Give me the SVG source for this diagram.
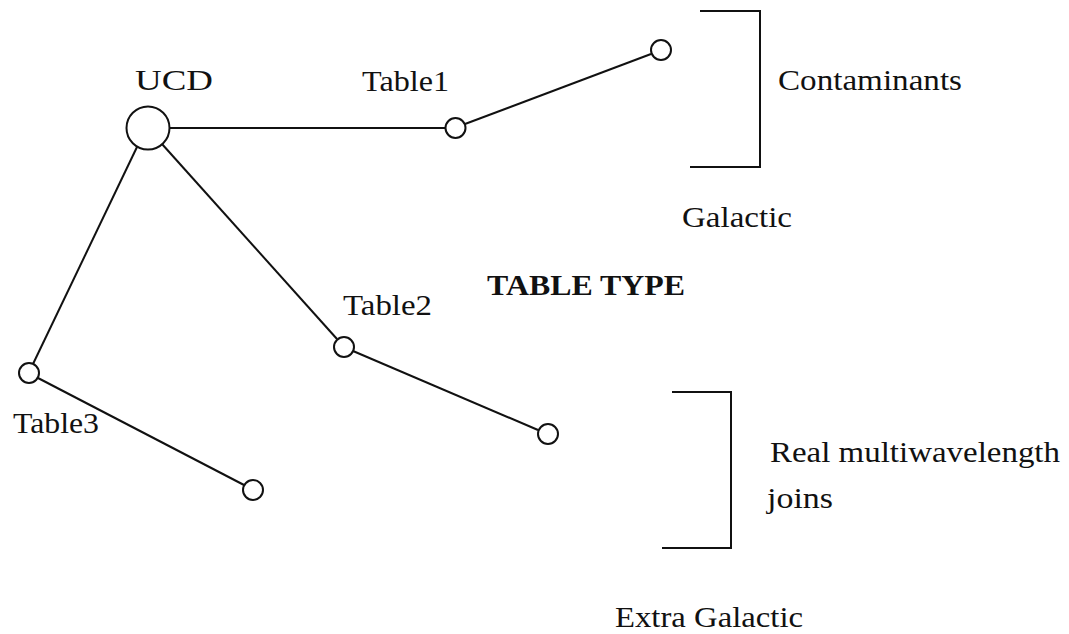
<svg xmlns="http://www.w3.org/2000/svg" width="1069" height="634" viewBox="0 0 1069 634">
<style>
.ln{stroke:#111;stroke-width:2;fill:none}
.nd{stroke:#111;stroke-width:2;fill:#fff}
.tx{font-family:"Liberation Serif","Times New Roman",serif;font-size:29px;fill:#111}
.bd{font-weight:bold}
</style>
<rect width="1069" height="634" fill="#fff"/>
<g id="connectors">
<line class="ln" x1="170" y1="128" x2="445" y2="128"/>
<line class="ln" x1="465" y1="124" x2="651" y2="54"/>
<line class="ln" x1="137" y1="147" x2="33" y2="364"/>
<line class="ln" x1="162" y1="144" x2="337" y2="339"/>
<line class="ln" x1="353" y1="351" x2="538" y2="430"/>
<line class="ln" x1="38" y1="378" x2="244" y2="485"/>
</g>
<g id="brackets">
<polyline class="ln" points="700,11 760,11 760,167 690,167"/>
<polyline class="ln" points="672,392 731,392 731,548 662,548"/>
</g>
<g id="ucd"><circle class="nd" cx="148" cy="128" r="21.5"/><text class="tx" x="135" y="90" textLength="78" lengthAdjust="spacingAndGlyphs">UCD</text></g>
<g id="table1"><circle class="nd" cx="455.5" cy="128" r="10"/><text class="tx" x="362" y="91" textLength="87" lengthAdjust="spacingAndGlyphs">Table1</text></g>
<g id="table1-end"><circle class="nd" cx="661" cy="50" r="10"/></g>
<g id="table2"><circle class="nd" cx="344" cy="347" r="10"/><text class="tx" x="343" y="315" textLength="89" lengthAdjust="spacingAndGlyphs">Table2</text></g>
<g id="table2-end"><circle class="nd" cx="548" cy="434" r="10"/></g>
<g id="table3"><circle class="nd" cx="29" cy="373" r="10"/><text class="tx" x="13" y="433" textLength="86" lengthAdjust="spacingAndGlyphs">Table3</text></g>
<g id="table3-end"><circle class="nd" cx="253" cy="490" r="10"/></g>
<g id="labels">
<text class="tx" x="778" y="90" textLength="184" lengthAdjust="spacingAndGlyphs">Contaminants</text>
<text class="tx" x="682" y="227" textLength="110" lengthAdjust="spacingAndGlyphs">Galactic</text>
<text class="tx bd" x="487" y="295" textLength="198" lengthAdjust="spacingAndGlyphs">TABLE TYPE</text>
<text class="tx" x="770" y="462" textLength="290" lengthAdjust="spacingAndGlyphs">Real multiwavelength</text>
<text class="tx" x="767" y="508" textLength="66" lengthAdjust="spacingAndGlyphs">joins</text>
<text class="tx" x="615" y="627" textLength="188" lengthAdjust="spacingAndGlyphs">Extra Galactic</text>
</g>
</svg>
